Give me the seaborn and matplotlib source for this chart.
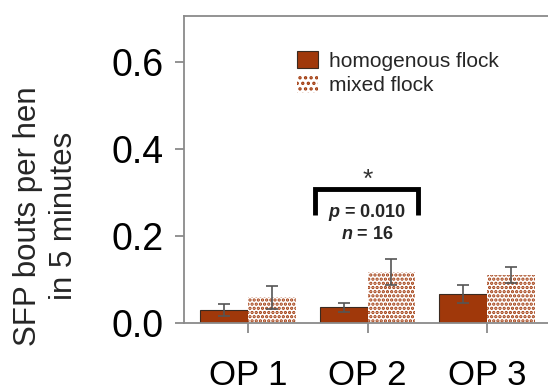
import matplotlib
matplotlib.use("Agg")
import matplotlib.pyplot as plt
import seaborn as sns
import pandas as pd
import numpy as np
from matplotlib.patches import Patch

# ---- data ----
periods = ["OP 1", "OP 2", "OP 3"]
groups = ["homogenous flock", "mixed flock"]
homog_mean = [0.030, 0.036, 0.066]
homog_err = [0.013, 0.011, 0.021]
mixed_mean = [0.059, 0.117, 0.110]
mixed_err = [0.026, 0.030, 0.019]
yticks = [0.0, 0.2, 0.4, 0.6]
ytick_labels = ["0.0", "0.2", "0.4", "0.6"]
ylabel = "SFP bouts per hen\nin 5 minutes"
star_text = "*"
p_text = "p = 0.010"
n_text = "n = 16"

sns.set_theme(style="white")
plt.rcParams["font.family"] = ["Liberation Sans", "DejaVu Sans"]
plt.rcParams["mathtext.fontset"] = "custom"
plt.rcParams["mathtext.it"] = "Liberation Sans:italic"
plt.rcParams["mathtext.bf"] = "Liberation Sans:bold"
HATCH_LW = 1.6
plt.rcParams["hatch.linewidth"] = HATCH_LW
try:
    plt.rcParams["mathtext.bfit"] = "Liberation Sans:italic:bold"
    has_bfit = True
except Exception:
    has_bfit = False

BROWN = "#A0380A"
GRAY = "#8a8a8a"

df = pd.DataFrame({
    "period": periods * 2,
    "group": [groups[0]] * 3 + [groups[1]] * 3,
    "value": homog_mean + mixed_mean,
})

fig = plt.figure(figsize=(5.48, 3.91), dpi=100)
ax = fig.add_axes([184 / 548, (391 - 323) / 391, 0.6838, (323 - 16) / 391])

sns.barplot(data=df, x="period", y="value", hue="group", order=periods,
            hue_order=groups, palette=[BROWN, BROWN], width=0.8,
            errorbar=None, ax=ax, legend=False, saturation=1)

# style bars
for bar in ax.containers[0]:
    bar.set_facecolor(BROWN)
    bar.set_edgecolor("#3a2a20")
    bar.set_linewidth(0.8)
for bar in ax.containers[1]:
    bar.set_facecolor("white")
    bar.set_edgecolor(BROWN)
    bar.set_hatch("....")
    if hasattr(bar, "set_hatch_linewidth"):
        bar.set_hatch_linewidth(HATCH_LW)
    bar.set_linewidth(0.0)

# error bars
for cont, errs in zip(ax.containers, [homog_err, mixed_err]):
    xs = [b.get_x() + b.get_width() / 2 for b in cont]
    ys = [b.get_height() for b in cont]
    ax.errorbar(xs, ys, yerr=errs, fmt="none", ecolor="#555555",
                elinewidth=1.2, capsize=4.5, capthick=1.2, zorder=5)

ax.set_xlim(-0.536, 2.6)
ax.set_ylim(0, 0.706)
ax.set_yticks(yticks)
ax.set_yticklabels(ytick_labels)
ax.set_xlabel("")
ax.set_ylabel("")

for s in ["left", "top", "bottom"]:
    ax.spines[s].set_color(GRAY)
    ax.spines[s].set_linewidth(1.3)
ax.spines["right"].set_visible(False)
ax.tick_params(axis="both", which="both", direction="out", color=GRAY,
               width=1.3, labelcolor="black")
ax.tick_params(axis="y", length=6.5, pad=8, labelsize=27)
ax.tick_params(axis="x", length=7, pad=19, labelsize=25)
ax.tick_params(left=True, bottom=True)

fig.text(46 / 548, (391 - 216) / 391, ylabel, rotation=90, ha="center",
         va="center", multialignment="center", fontsize=22.5, linespacing=1.25)

# legend
handles = [Patch(facecolor=BROWN, edgecolor="#3a2a20", linewidth=0.8),
           Patch(facecolor="white", edgecolor=BROWN, hatch="...", linewidth=0)]
fig.legend(handles, groups, loc="upper left",
           bbox_to_anchor=(297 / 548, (391 - 51) / 391),
           bbox_transform=fig.transFigure, frameon=False, fontsize=15,
           handlelength=1.0, handleheight=0.9, handletextpad=0.55,
           labelspacing=0.22, borderpad=0, borderaxespad=0)

# significance bracket (OP 2)
cx = 1
bx0, bx1 = cx - 0.44, cx + 0.42
by_top, by_leg = 0.308, 0.248
ax.plot([bx0, bx0, bx1, bx1], [by_leg, by_top, by_top, by_leg], color="black",
        lw=3.5, solid_joinstyle="miter", solid_capstyle="butt", zorder=6)
ax.text(cx, 0.330, star_text, ha="center", va="center", fontsize=19,
        color="#333333")
if has_bfit:
    ptxt = r"$\mathbfit{p}$" + p_text[1:]
    ntxt = r"$\mathbfit{n}$" + n_text[1:]
else:
    ptxt, ntxt = p_text, n_text
ax.text(cx, 0.254, ptxt, ha="center", va="center", fontsize=13,
        fontweight="bold")
ax.text(cx, 0.203, ntxt, ha="center", va="center", fontsize=13,
        fontweight="bold")

fig.savefig("out.png", dpi=100)
